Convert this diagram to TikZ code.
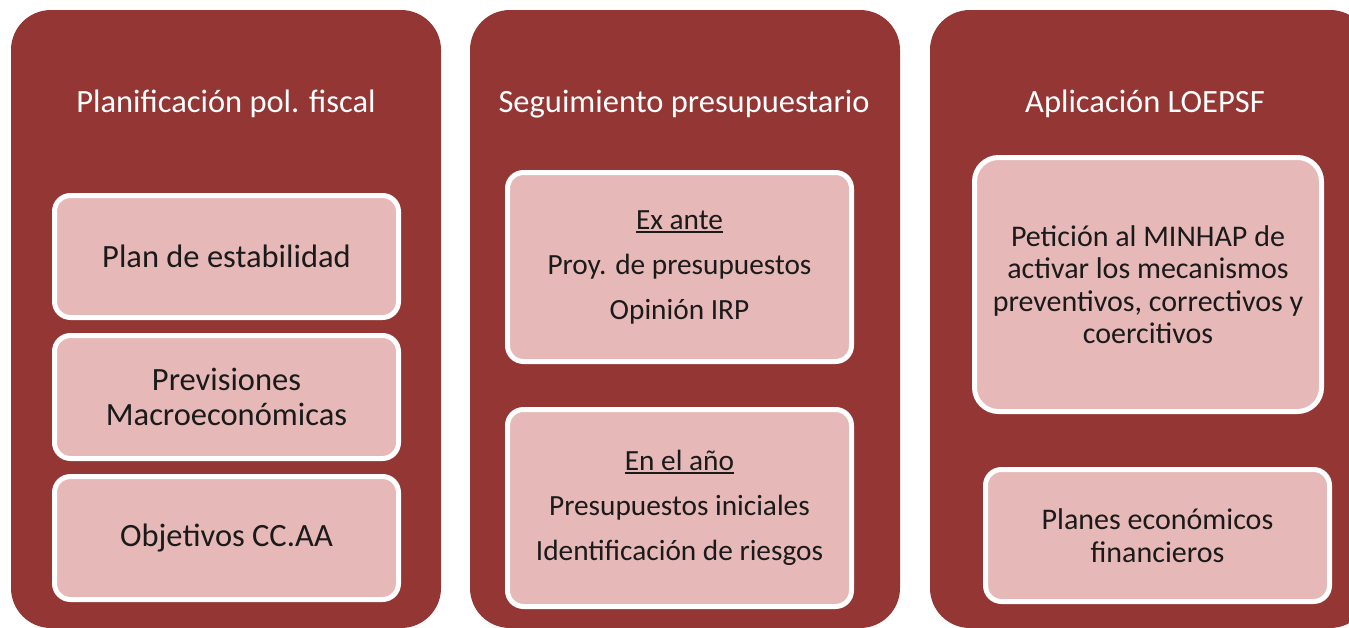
\documentclass[tikz,border=0pt]{standalone}
\usepackage{fontspec}
\setmainfont{Carlito}
\definecolor{panelred}{HTML}{943634}
\definecolor{itempink}{HTML}{E6B8B7}
\definecolor{itemtext}{HTML}{1A1A1A}
\newcommand{\myul}[1]{\setbox0\hbox{#1}\rlap{\rule[-3.5pt]{\wd0}{1.8pt}}\box0}
\begin{document}
\begin{tikzpicture}[x=1pt,y=-1pt,
  panel/.style={fill=panelred, draw=none, rounded corners=40pt, inner sep=0pt},
  itembox/.style={fill=itempink, draw=white, line width=5pt, rounded corners=16pt, align=center, text=itemtext, inner sep=0pt},
  paneltitle/.style={text=white, anchor=base, inner sep=0pt, font=\fontsize{32.5}{39}\selectfont},
  fontA/.style={font=\fontsize{32.5}{35}\selectfont},
  fontB/.style={font=\fontsize{29.3}{45}\selectfont},
  fontC/.style={font=\fontsize{30}{32.5}\selectfont}]
\useasboundingbox (0,0) rectangle (1349,627);
\clip (0,0) rectangle (1349,627);
\fill[white] (0,0) rectangle (1349,627);
% panels
\node[panel, minimum width=430pt, minimum height=618pt] (pL) at (226,319) {};
\node[panel, minimum width=430pt, minimum height=618pt] (pM) at (685,319) {};
\node[panel, minimum width=440pt, minimum height=618pt] (pR) at (1150,319) {};
% titles
\node[paneltitle] (tL) at (226,112) {Planificación pol. fiscal};
\node[paneltitle] (tM) at (684,112) {Seguimiento presupuestario};
\node[paneltitle] (tR) at (1145,112) {Aplicación LOEPSF};
% left items
\node[itembox, fontA, minimum width=344pt, minimum height=122pt] (l1) at (226.5,256.5) {Plan de estabilidad};
\node[itembox, fontA, minimum width=344pt, minimum height=123pt] (l2) at (226.5,397) {Previsiones\\Macroeconómicas};
\node[itembox, fontA, minimum width=344pt, minimum height=123pt] (l3) at (226.5,538) {Objetivos CC.AA};
% middle items
\node[itembox, fontB, minimum width=344pt, minimum height=189pt] (m1) at (679.5,267) {\myul{Ex ante}\\Proy. de presupuestos\\Opinión IRP};
\node[itembox, fontB, minimum width=344pt, minimum height=197pt] (m2) at (679.5,508) {\myul{En el año}\\Presupuestos iniciales\\Identificación de riesgos};
% right items
\node[itembox, fontC, rounded corners=24pt, minimum width=347pt, minimum height=254pt] (r1) at (1148,284.5) {Petición al MINHAP de\\activar los mecanismos\\preventivos, correctivos y\\coercitivos};
\node[itembox, fontC, minimum width=344pt, minimum height=132pt] (r2) at (1157.5,535.5) {Planes económicos\\financieros};
\end{tikzpicture}
\end{document}
